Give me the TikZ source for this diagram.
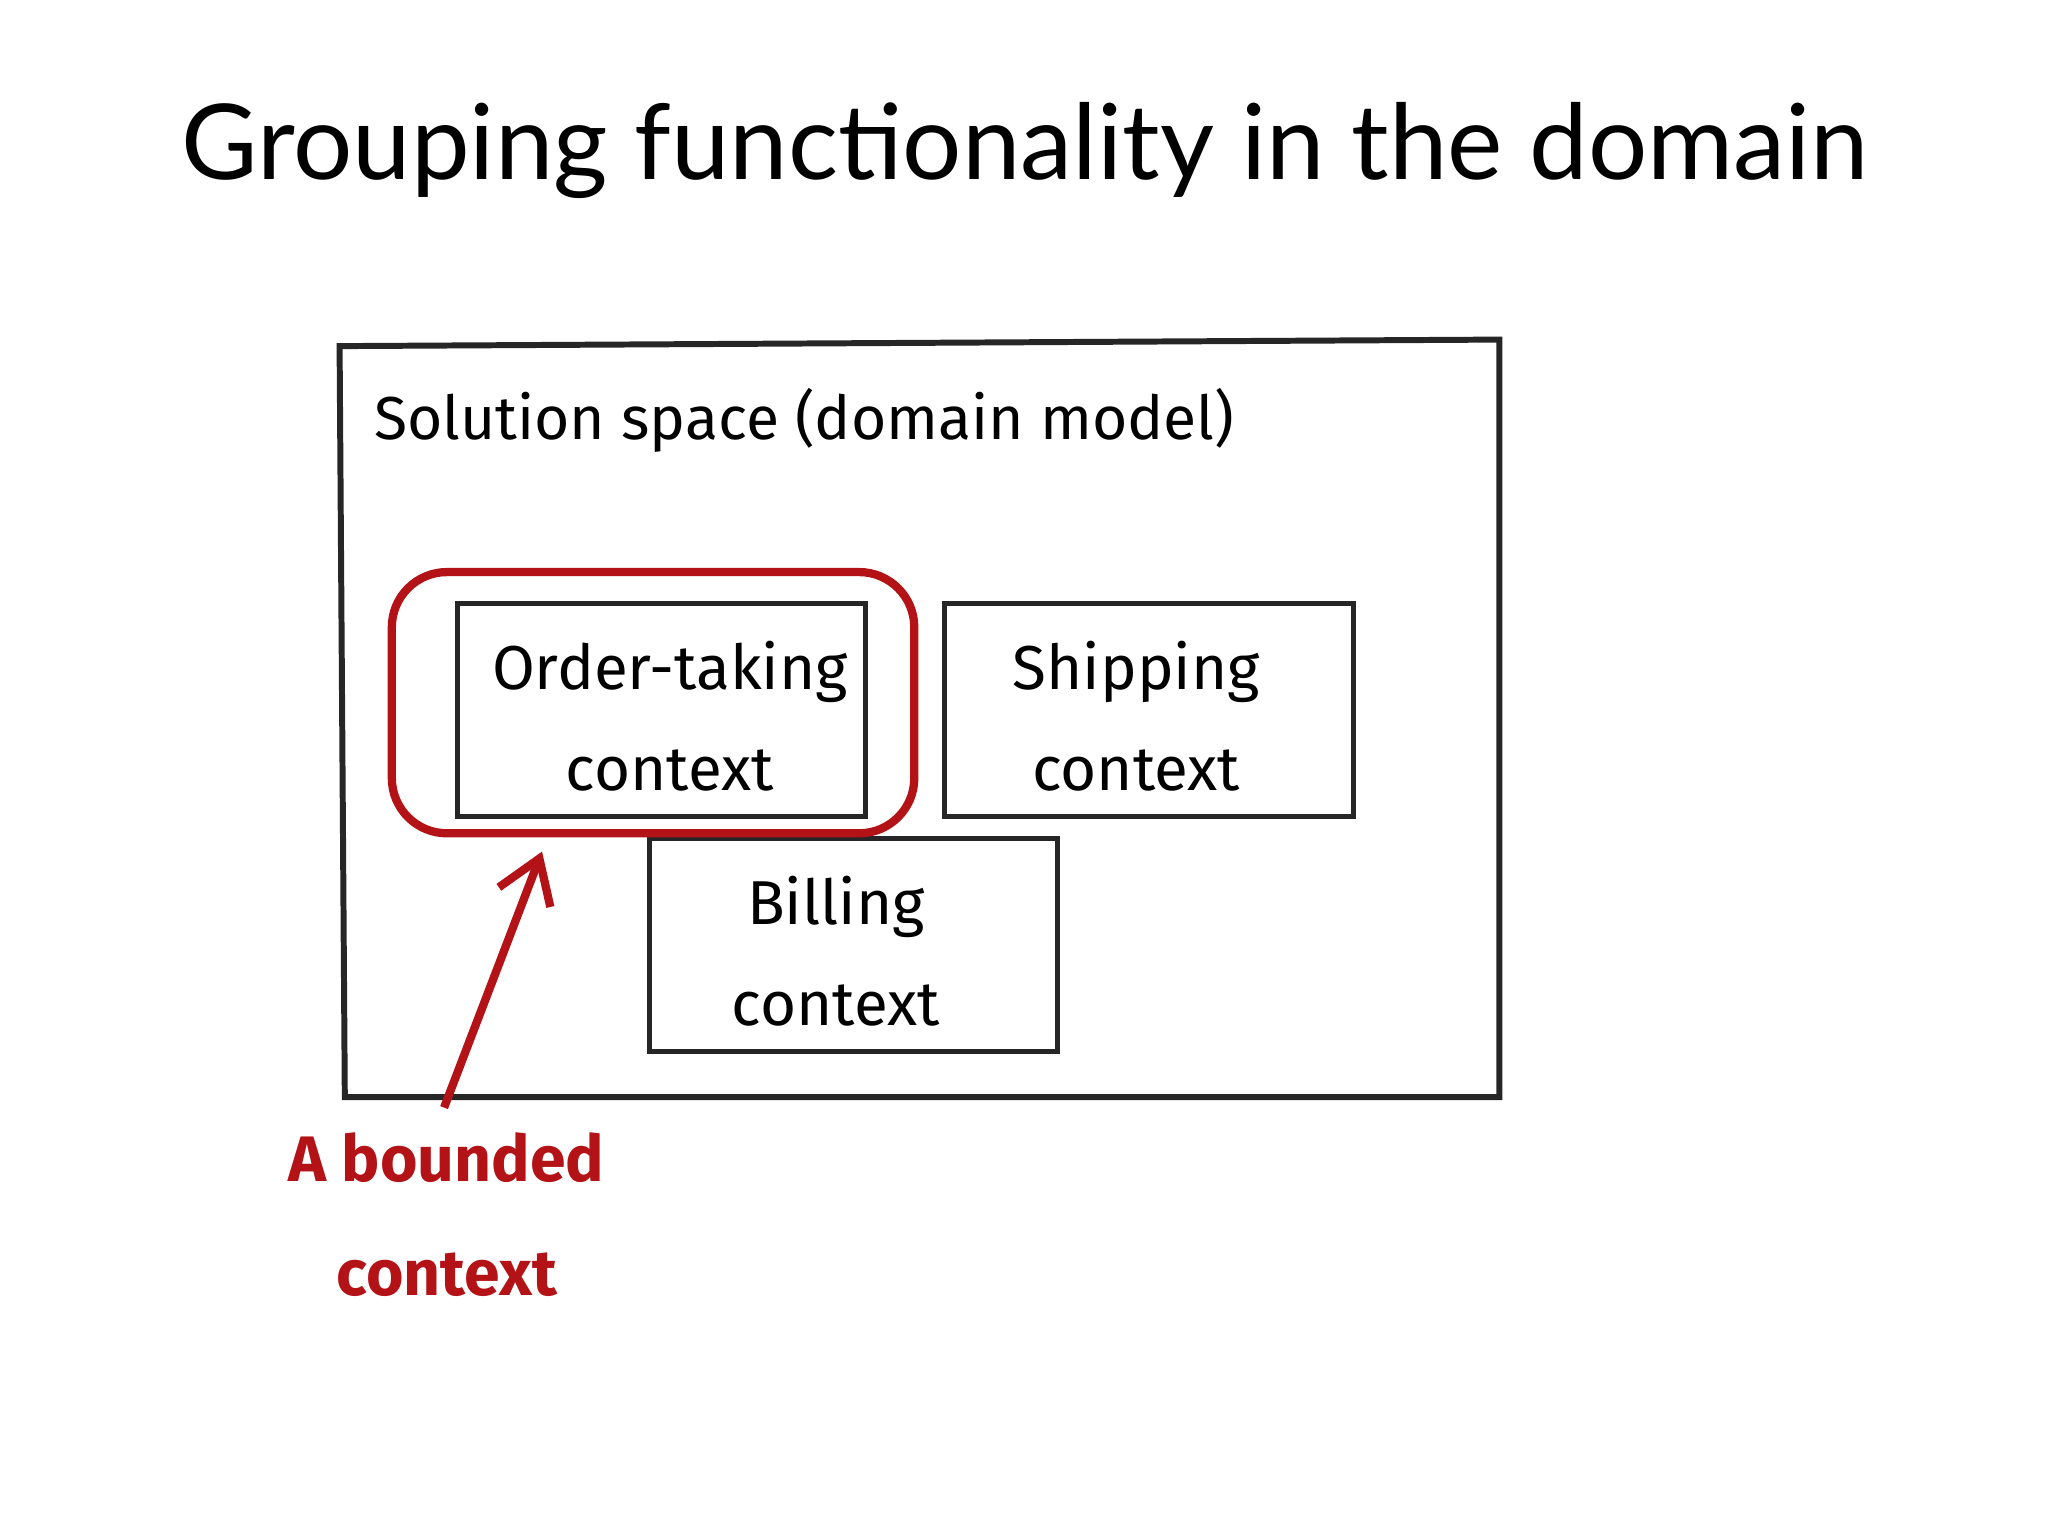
\documentclass[tikz,border=0pt]{standalone}
\usepackage{fontspec}
\setmainfont{Lato}
\newfontfamily\hand{Fira Sans}
\usetikzlibrary{arrows.meta}
\definecolor{redc}{HTML}{B31217}
\tikzset{ctx/.style={draw=black!85,line width=1.1pt},
lbl/.style={font=\hand\fontsize{13.5}{22}\selectfont,align=center}}
\begin{document}
\begin{tikzpicture}[x=0.01cm,y=-0.01cm]
\useasboundingbox (0,0) rectangle (1568,1176);
\node[font=\fontsize{22.8}{28}\selectfont] (title) at (785,115) {Grouping functionality in the domain};
\draw[ctx,line width=1.3pt] (260,265) -- (1148,260) -- (1148,840) -- (264,840) -- cycle;
\node[font=\hand\fontsize{13.2}{18}\selectfont,anchor=west] (sol) at (274,322) {Solution space (domain model)};
\draw[ctx] (350,462) rectangle (663,625);
\node[lbl] (ot) at (513,548) {Order-taking\\context};
\draw[ctx] (723,462) rectangle (1036,625);
\node[lbl] (sh) at (870,548) {Shipping\\context};
\draw[ctx] (497,642) rectangle (810,805);
\node[lbl] (bi) at (640,728) {Billing\\context};
\draw[redc,line width=1.8pt,rounded corners=12pt] (300,438) rectangle (700,638);
\coordinate (tip) at (415,652);
\node[font=\hand\bfseries\fontsize{14}{25}\selectfont,text=redc,align=center] (bc) at (342,930) {A bounded\\context};
\draw[redc,line width=1.8pt,-{Straight Barb[length=9pt,width=12pt]}] (340,848) -- (tip);
\end{tikzpicture}
\end{document}
